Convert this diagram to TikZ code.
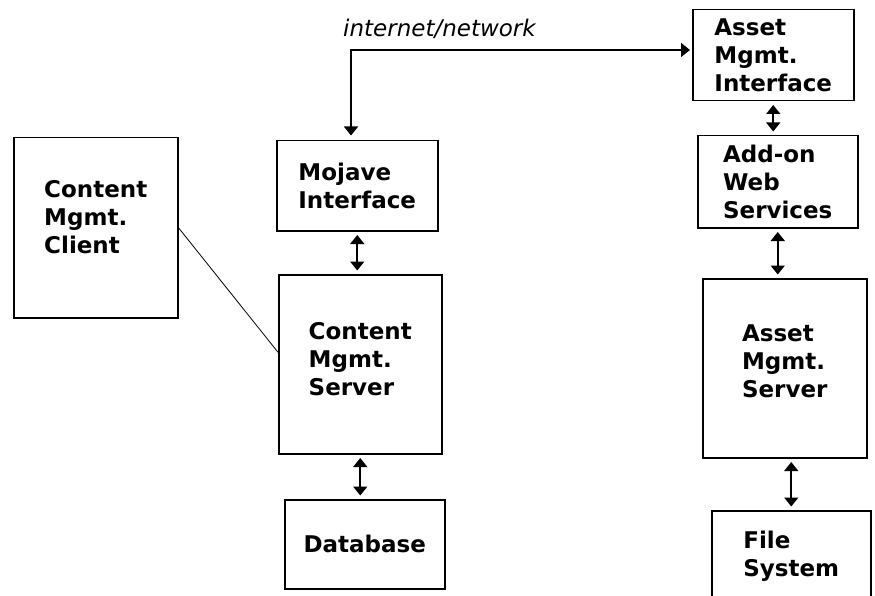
\documentclass[tikz,border=0pt]{standalone}
\usepackage{fontspec}
\setmainfont{DejaVu Sans}
\usetikzlibrary{arrows.meta}

\tikzset{
    box/.style={draw, rectangle, line width=1.5pt, anchor=north west, align=left,
        inner sep=0pt, font=\fontsize{23}{28}\selectfont\bfseries},
    lift/.style={text depth=#1},
    link/.style={line width=1.6pt,
        {Triangle[width=14pt,length=9pt]}-{Triangle[width=14pt,length=9pt]},
        shorten <=3.5pt, shorten >=3.5pt}
}

\begin{document}
\begin{tikzpicture}[x=1pt, y=-1pt]
    \useasboundingbox (0,0) rectangle (875,596);
    \clip (0,0) rectangle (875,596);
    % Nodes
    \node[box, lift=21pt, minimum width=164pt, minimum height=180pt] (client) at (13,137) {Content\\Mgmt.\\Client};
    \node[box, minimum width=161pt, minimum height=90pt] (mojave) at (276,140) {Mojave\\Interface};
    \node[box, lift=10pt, minimum width=163pt, minimum height=179pt] (cserver) at (278,274) {Content\\Mgmt.\\Server};
    \node[box, minimum width=160pt, minimum height=89pt] (database) at (284,499) {Database};
    \node[box, minimum width=161pt, minimum height=91pt] (ainterface) at (692,9) {Asset\\Mgmt.\\Interface};
    \node[box, minimum width=160pt, minimum height=92pt] (addon) at (697,135) {Add-on\\Web\\Services};
    \node[box, lift=15pt, minimum width=164pt, minimum height=179pt] (aserver) at (702,278) {Asset\\Mgmt.\\Server};
    \node[box, minimum width=159pt, minimum height=90pt] (filesys) at (711,510) {File\\System};
    \node[font=\fontsize{23}{27}\selectfont\itshape, anchor=base west, inner sep=0pt] (netlabel) at (343,37) {internet/network};
    \coordinate (net) at (351,50);
    % Edges
    \draw[link, shorten <=4.5pt, shorten >=2pt] (mojave.north -| net) |- (ainterface.west |- net);
    \draw[link] (mojave.south) -- (mojave.south |- cserver.north);
    \draw[link] (cserver.south) -- (cserver.south |- database.north);
    \draw[link] (ainterface.south) -- (ainterface.south |- addon.north);
    \draw[link] (addon.south) -- (addon.south |- aserver.north);
    \draw[link] (filesys.north |- aserver.south) -- (filesys.north);
    \draw[line width=0.8pt] (client.east) -- ([yshift=12pt]cserver.west);
\end{tikzpicture}
\end{document}
